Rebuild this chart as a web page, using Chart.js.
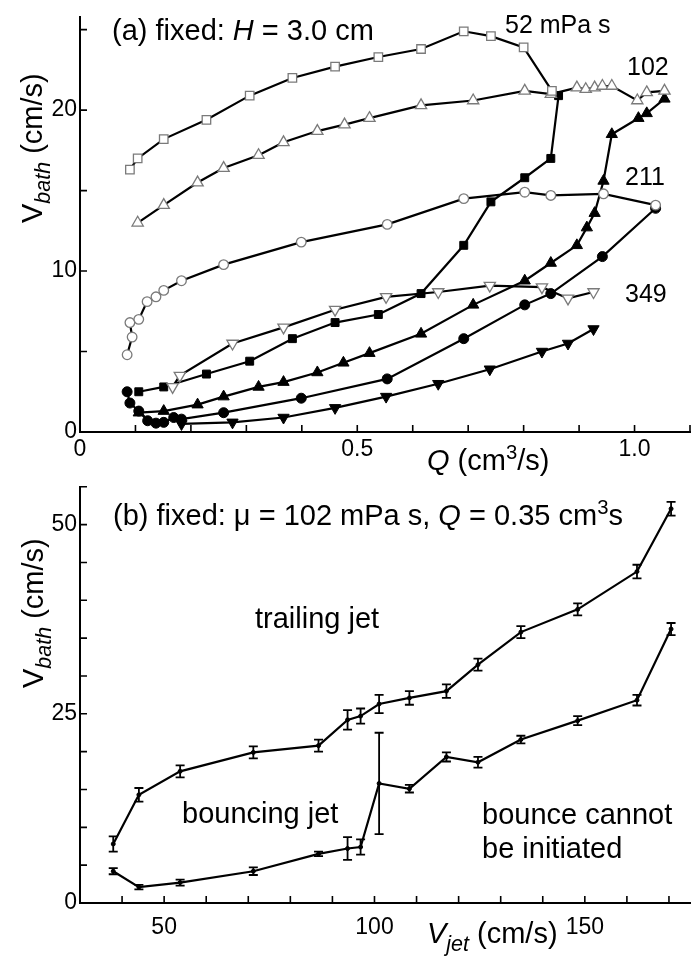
<!DOCTYPE html>
<html lang="en">
<head>
<meta charset="UTF-8">
<title>Bath velocity: (a) vs Q, (b) vs jet speed</title>
<script src="https://cdn.jsdelivr.net/npm/chart.js"></script>
<style>
  body { margin: 0; background: #fff; }
  .wrap { position: relative; width: 699px; height: 956px; }
  canvas { position: absolute; left: 0; }
  #chartA { top: 0; }
  #chartB { top: 470px; }
</style>
</head>
<body>
<div class="wrap">
  <canvas id="chartA" width="699" height="482"></canvas>
  <canvas id="chartB" width="699" height="486"></canvas>
</div>
<script>
// ---- panel (a): V_bath vs Q, H = 3.0 cm ----
// open symbols
const q52  = [0.090, 0.104, 0.151, 0.228, 0.306, 0.383, 0.460, 0.538, 0.615, 0.692, 0.741, 0.800, 0.851];
const v52  = [16.3, 17.0, 18.2, 19.4, 20.9, 22.0, 22.7, 23.3, 23.8, 24.9, 24.6, 23.9, 21.2];
const q102 = [0.104, 0.151, 0.212, 0.259, 0.322, 0.367, 0.428, 0.477, 0.522, 0.615, 0.709, 0.802, 0.849, 0.896, 0.912, 0.928, 0.942, 0.959, 1.005, 1.022, 1.054];
const v102 = [13.0, 14.1, 15.5, 16.4, 17.2, 18.0, 18.7, 19.1, 19.5, 20.3, 20.6, 21.2, 21.0, 21.4, 21.3, 21.4, 21.5, 21.5, 20.6, 21.1, 21.2];
const q211 = [0.085, 0.094, 0.090, 0.106, 0.121, 0.137, 0.151, 0.183, 0.259, 0.399, 0.554, 0.692, 0.802, 0.849, 0.944, 1.038];
const v211 = [4.8, 5.9, 6.8, 7.0, 8.1, 8.4, 8.8, 9.4, 10.4, 11.8, 12.9, 14.5, 14.9, 14.7, 14.8, 14.1];
const q349 = [0.167, 0.180, 0.275, 0.367, 0.460, 0.552, 0.646, 0.739, 0.833, 0.880, 0.926];
const v349 = [2.8, 3.5, 5.5, 6.5, 7.6, 8.4, 8.7, 9.1, 9.0, 8.3, 8.7];
// filled symbols
const qF52  = [0.106, 0.151, 0.228, 0.306, 0.383, 0.460, 0.538, 0.615, 0.692, 0.741, 0.802, 0.849, 0.863];
const vF52  = [2.5, 2.8, 3.6, 4.4, 5.8, 6.8, 7.3, 8.6, 11.6, 14.3, 15.8, 17.0, 20.9];
const qF102 = [0.106, 0.151, 0.212, 0.259, 0.322, 0.367, 0.428, 0.475, 0.522, 0.615, 0.709, 0.802, 0.849, 0.896, 0.914, 0.928, 0.944, 0.959, 1.007, 1.022, 1.054];
const vF102 = [1.2, 1.3, 1.7, 2.2, 2.8, 3.1, 3.7, 4.3, 4.9, 6.1, 7.9, 9.4, 10.5, 11.6, 12.7, 13.6, 15.6, 18.5, 19.5, 19.8, 20.7];
const qF211 = [0.085, 0.090, 0.106, 0.122, 0.137, 0.151, 0.169, 0.183, 0.259, 0.399, 0.554, 0.692, 0.802, 0.849, 0.942, 1.038];
const vF211 = [2.5, 1.8, 1.3, 0.7, 0.55, 0.6, 0.9, 0.8, 1.2, 2.1, 3.3, 5.8, 7.9, 8.6, 10.9, 13.9];
const qF349 = [0.183, 0.275, 0.367, 0.460, 0.552, 0.646, 0.739, 0.833, 0.880, 0.926];
const vF349 = [0.5, 0.6, 0.9, 1.5, 2.2, 3.0, 3.9, 5.0, 5.5, 6.4];

const qTicks     = [0, 0.1, 0.2, 0.3, 0.4, 0.5, 0.6, 0.7, 0.8, 0.9, 1.0, 1.1];
const qTickText  = ['0', '', '', '', '', '0.5', '', '', '', '', '1.0', ''];
const vaTicks    = [0, 5, 10, 15, 20, 25];
const vaTickText = ['0', '', '10', '', '20', ''];

// ---- panel (b): V_bath vs V_jet, mu = 102 mPa s ----
const vJet     = [37.9, 44.0, 53.8, 71.2, 86.7, 93.6, 96.7, 101.1, 108.3, 117.1, 124.6, 134.8, 148.3, 162.4, 170.5];
const upperV   = [7.8, 14.3, 17.4, 19.9, 20.8, 24.2, 24.7, 26.3, 27.1, 28.0, 31.5, 35.8, 38.8, 43.8, 52.1];
const upperErr = [1.0, 0.9, 0.8, 0.8, 0.8, 1.3, 1.0, 1.2, 0.9, 0.9, 0.8, 0.8, 0.8, 0.9, 0.9];
const lowerV   = [4.2, 2.1, 2.7, 4.2, 6.5, 7.2, 7.4, 15.8, 15.1, 19.3, 18.6, 21.6, 24.1, 26.8, 36.2];
const lowerErr = [0.4, 0.3, 0.4, 0.5, 0.3, 1.5, 1.0, 6.7, 0.5, 0.6, 0.7, 0.5, 0.6, 0.7, 0.8];

const jTicks     = [40, 50, 60, 70, 80, 90, 100, 110, 120, 130, 140, 150, 160, 170];
const jTickText  = ['', '50', '', '', '', '', '100', '', '', '', '', '150', '', ''];
const vbTicks    = [0, 5, 10, 15, 20, 25, 30, 35, 40, 45, 50, 55];
const vbTickText = ['0', '', '', '', '', '25', '', '', '', '', '50', ''];

const FONT = '"Liberation Sans", Arial, Helvetica, sans-serif';
const FS_BIG = 29;     // panel titles, axis titles, region labels
const FS_TICK = 23;
const FS_MU = 25;      // viscosity labels in (a)

function pts(xs, ys) { return xs.map((x, i) => ({ x: x, y: ys[i] })); }

// text built from pieces: {t, it, sub, sup}
function richText(ctx, x, y, parts, size, angle) {
  ctx.save();
  ctx.translate(x, y);
  if (angle) ctx.rotate(angle);
  ctx.textBaseline = 'alphabetic';
  ctx.textAlign = 'left';
  ctx.fillStyle = '#000';
  let cx = 0;
  parts.forEach(p => {
    let s = size, dy = 0;
    if (p.sub) { s = size * 0.74; dy = size * 0.27; }
    if (p.sup) { s = size * 0.7; dy = -size * 0.38; }
    ctx.font = (p.it ? 'italic ' : '') + s + 'px ' + FONT;
    ctx.fillText(p.t, cx, dy);
    cx += ctx.measureText(p.t).width;
  });
  ctx.restore();
}

// ticks drawn inside the axes
const inwardTicks = {
  id: 'inwardTicks',
  afterDraw(chart) {
    const { ctx, chartArea, scales } = chart;
    ctx.save();
    ctx.strokeStyle = '#000';
    ctx.lineWidth = 1.6;
    ctx.beginPath();
    scales.x.ticks.forEach(t => {
      const px = scales.x.getPixelForValue(t.value);
      ctx.moveTo(px, chartArea.bottom);
      ctx.lineTo(px, chartArea.bottom - 7);
    });
    scales.y.ticks.forEach(t => {
      const py = scales.y.getPixelForValue(t.value);
      ctx.moveTo(chartArea.left, py);
      ctx.lineTo(chartArea.left + 7, py);
    });
    ctx.stroke();
    ctx.restore();
  }
};

const textOverlay = {
  id: 'textOverlay',
  afterDraw(chart, args, opts) {
    (opts.items || []).forEach(it => richText(chart.ctx, it.x, it.y, it.parts, it.size || FS_BIG, it.angle));
  }
};

const errorBars = {
  id: 'errorBars',
  afterDatasetsDraw(chart) {
    const { ctx, scales } = chart;
    ctx.save();
    ctx.strokeStyle = '#000';
    ctx.lineWidth = 1.8;
    chart.data.datasets.forEach(ds => {
      if (!ds.errors) return;
      ds.data.forEach((p, i) => {
        const e = ds.errors[i];
        const px = scales.x.getPixelForValue(p.x);
        const top = scales.y.getPixelForValue(p.y + e);
        const bot = scales.y.getPixelForValue(p.y - e);
        ctx.beginPath();
        ctx.moveTo(px, top); ctx.lineTo(px, bot);
        ctx.moveTo(px - 4.5, top); ctx.lineTo(px + 4.5, top);
        ctx.moveTo(px - 4.5, bot); ctx.lineTo(px + 4.5, bot);
        ctx.stroke();
      });
    });
    ctx.restore();
  }
};

function series(xs, ys, style, rot, filled, r) {
  return {
    data: pts(xs, ys),
    showLine: true,
    borderColor: '#000',
    borderWidth: 2.2,
    tension: 0,
    pointStyle: style,
    pointRotation: rot,
    pointRadius: r,
    pointHoverRadius: r,
    pointBackgroundColor: filled ? '#000' : '#fff',
    pointBorderColor: filled ? '#000' : '#7a7a7a',
    pointBorderWidth: filled ? 1 : 1.3,
    clip: false
  };
}

function axis(min, max, ticks, texts, pad, fitFn) {
  return {
    type: 'linear',
    min: min,
    max: max,
    grid: { display: false, drawTicks: false },
    border: { display: true, color: '#000', width: 2 },
    afterBuildTicks: s => { s.ticks = ticks.map(v => ({ value: v })); },
    afterFit: fitFn,
    ticks: {
      autoSkip: false,
      maxRotation: 0,
      padding: pad,
      color: '#000',
      font: { family: FONT, size: FS_TICK },
      callback: (v, i) => texts[i]
    }
  };
}

const baseOpts = {
  responsive: false,
  animation: false,
  events: [],
  plugins: { legend: { display: false }, tooltip: { enabled: false } }
};

new Chart(document.getElementById('chartA'), {
  type: 'scatter',
  data: {
    datasets: [
      series(q52, v52, 'rect', 0, false, 6),
      series(q102, v102, 'triangle', 0, false, 6.5),
      series(q211, v211, 'circle', 0, false, 4.8),
      series(q349, v349, 'triangle', 180, false, 6.5),
      series(qF52, vF52, 'rect', 0, true, 5.6),
      series(qF102, vF102, 'triangle', 0, true, 6.5),
      series(qF211, vF211, 'circle', 0, true, 5),
      series(qF349, vF349, 'triangle', 180, true, 6.5)
    ]
  },
  options: Object.assign({}, baseOpts, {
    layout: { padding: { left: 0, right: 9, top: 12, bottom: 0 } },
    scales: {
      x: axis(0, 1.1, qTicks, qTickText, 4, s => { s.height = 50; }),
      y: axis(0, 25.8, vaTicks, vaTickText, 3, s => { s.width = 80; })
    },
    plugins: Object.assign({}, baseOpts.plugins, {
      textOverlay: {
        items: [
          { x: 112, y: 40, parts: [{ t: '(a) fixed: ' }, { t: 'H', it: true }, { t: ' = 3.0 cm' }] },
          { x: 505, y: 33, size: FS_MU, parts: [{ t: '52 mPa s' }] },
          { x: 627, y: 75, size: FS_MU, parts: [{ t: '102' }] },
          { x: 625, y: 185, size: FS_MU, parts: [{ t: '211' }] },
          { x: 625, y: 302, size: FS_MU, parts: [{ t: '349' }] },
          { x: 42, y: 223, angle: -Math.PI / 2, parts: [{ t: 'V' }, { t: 'bath', it: true, sub: true }, { t: ' (cm/s)' }] },
          { x: 427, y: 470, parts: [{ t: 'Q', it: true }, { t: ' (cm' }, { t: '3', sup: true }, { t: '/s)' }] }
        ]
      }
    })
  }),
  plugins: [inwardTicks, textOverlay]
});

const upperSet = series(vJet, upperV, 'circle', 0, true, 2);
upperSet.errors = upperErr;
const lowerSet = series(vJet, lowerV, 'circle', 0, true, 2);
lowerSet.errors = lowerErr;

new Chart(document.getElementById('chartB'), {
  type: 'scatter',
  data: { datasets: [upperSet, lowerSet] },
  options: Object.assign({}, baseOpts, {
    layout: { padding: { left: 0, right: 9, top: 12, bottom: 0 } },
    scales: {
      x: axis(30, 175, jTicks, jTickText, 11, s => { s.height = 53; }),
      y: axis(0, 55, vbTicks, vbTickText, 3, s => { s.width = 80; })
    },
    plugins: Object.assign({}, baseOpts.plugins, {
      textOverlay: {
        items: [
          { x: 113, y: 55, parts: [{ t: '(b) fixed: \u03bc = 102 mPa s, ' }, { t: 'Q', it: true }, { t: ' = 0.35 cm' }, { t: '3', sup: true }, { t: 's' }] },
          { x: 255, y: 158, parts: [{ t: 'trailing jet' }] },
          { x: 182, y: 353, parts: [{ t: 'bouncing jet' }] },
          { x: 482, y: 354, parts: [{ t: 'bounce cannot' }] },
          { x: 482, y: 388, parts: [{ t: 'be initiated' }] },
          { x: 43, y: 218, angle: -Math.PI / 2, parts: [{ t: 'V' }, { t: 'bath', it: true, sub: true }, { t: ' (cm/s)' }] },
          { x: 427, y: 473, parts: [{ t: 'V', it: true }, { t: 'jet', it: true, sub: true }, { t: ' (cm/s)' }] }
        ]
      }
    })
  }),
  plugins: [inwardTicks, textOverlay, errorBars]
});
</script>
</body>
</html>
